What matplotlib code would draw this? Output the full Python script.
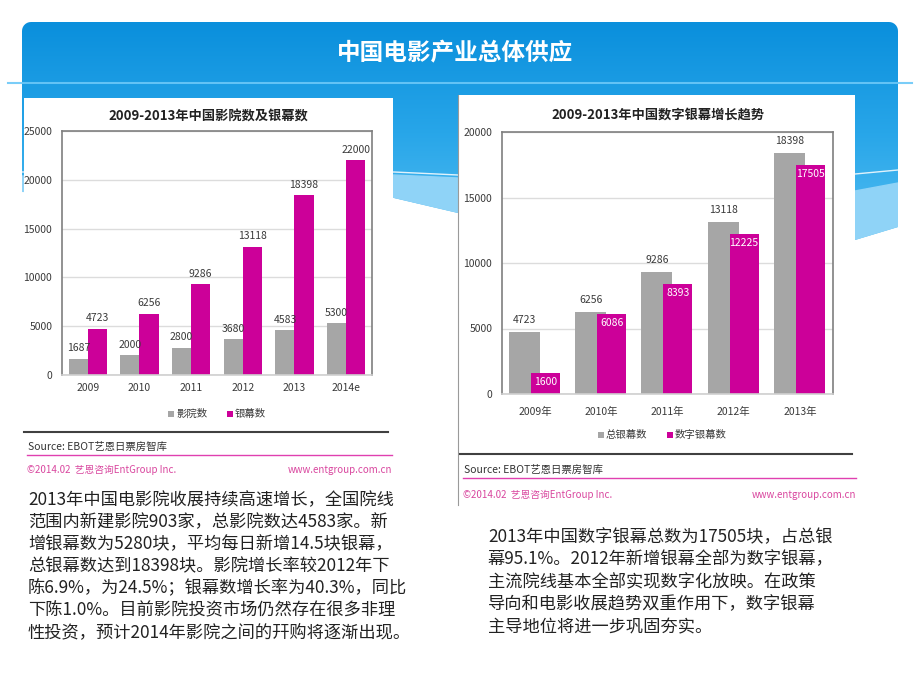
import numpy as np
import matplotlib
matplotlib.use('Agg')
import matplotlib.pyplot as plt
from matplotlib.path import Path
from matplotlib.patches import PathPatch, Rectangle
from matplotlib.colors import LinearSegmentedColormap

plt.rcParams['font.family'] = ['Noto Sans CJK SC', 'DejaVu Sans']

# data
years_left = ['2009', '2010', '2011', '2012', '2013', '2014e']
cinemas = [1687, 2000, 2800, 3680, 4583, 5300]
screens = [4723, 6256, 9286, 13118, 18398, 22000]

years_right = ['2009年', '2010年', '2011年', '2012年', '2013年']
total_screens = [4723, 6256, 9286, 13118, 18398]
digital_screens = [1600, 6086, 8393, 12225, 17505]

slide_title = '中国电影产业总体供应'
left_title = '2009-2013年中国影院数及银幕数'
right_title = '2009-2013年中国数字银幕增长趋势'
left_legend = ['影院数', '银幕数']
right_legend = ['总银幕数', '数字银幕数']
source = 'Source: EBOT艺恩日票房智库'
footer_l = '©2014.02  艺恩咨询EntGroup Inc.'
footer_r = 'www.entgroup.com.cn'

left_text = [
    '2013年中国电影院收展持续高速增长，全国院线',
    '范围内新建影院903家，总影院数达4583家。新',
    '增银幕数为5280块，平均每日新增14.5块银幕，',
    '总银幕数达到18398块。影院增长率较2012年下',
    '陈6.9%，为24.5%；银幕数增长率为40.3%，同比',
    '下陈1.0%。目前影院投资市场仍然存在很多非理',
    '性投资，预计2014年影院之间的幵购将逐渐出现。',
]
right_text = [
    '2013年中国数字银幕总数为17505块，占总银',
    '幕95.1%。2012年新增银幕全部为数字银幕，',
    '主流院线基本全部实现数字化放映。在政策',
    '导向和电影收展趋势双重作用下，数字银幕',
    '主导地位将进一步巩固夯实。',
]

GREY = '#a6a6a6'
MAGENTA = '#cc0099'
PINK = '#d9479f'
DARK = '#3a3a3a'

W, H = 920, 690
fig = plt.figure(figsize=(9.2, 6.9), dpi=100)
bg = fig.add_axes([0, 0, 1, 1])
bg.set_xlim(0, W)
bg.set_ylim(H, 0)
bg.axis('off')


def frac(x0, y0, x1, y1):
    return [x0 / W, 1 - y1 / H, (x1 - x0) / W, (y1 - y0) / H]


# banner shape with rounded top corners and a slanted bottom
r = 9
t = np.linspace(np.pi, 1.5 * np.pi, 8)
tl = [(22 + r + r * np.cos(a), 22 + r + r * np.sin(a)) for a in t]
t2 = np.linspace(1.5 * np.pi, 2 * np.pi, 8)
tr = [(898 - r + r * np.cos(a), 22 + r + r * np.sin(a)) for a in t2]
verts = tl + tr + [(898, 227), (855, 240), (458, 213), (394, 198), (22, 192), tl[0]]
banner = PathPatch(Path(verts), facecolor='none', edgecolor='none', transform=bg.transData)
bg.add_patch(banner)
cmap = LinearSegmentedColormap.from_list('b', ['#0a8fdc', '#28a6e9', '#55bff2'])
grad = np.linspace(0, 1, 256).reshape(-1, 1)
im = bg.imshow(grad, extent=[22, 898, 245, 22], aspect='auto', cmap=cmap, zorder=1)
im.set_clip_path(banner)
band = bg.fill([22, 394, 458, 855, 898, 898, 855, 458, 394, 22],
               [176, 175, 178, 191, 183, 227, 240, 213, 198, 192], color='#8fd3f7', zorder=2)[0]
band.set_clip_path(banner)
bg.plot([22, 394, 458, 855, 898], [172, 172, 175, 174, 170], color='white', lw=1, alpha=0.85, zorder=3)
bg.plot([8, 912], [83, 83], color='#6cc8f8', lw=1.5, alpha=0.9, zorder=3)
bg.text(455, 53, slide_title, color='white', fontsize=17, fontweight='bold',
        ha='center', va='center', zorder=4)

# white panels
bg.add_patch(Rectangle((24, 98), 369, 385, facecolor='white', edgecolor='none', zorder=5))
bg.add_patch(Rectangle((458, 95), 397, 410, facecolor='white', edgecolor='none', zorder=5))
bg.plot([458, 458], [95, 505], color='#9a9a9a', lw=0.8, zorder=6)


def style(ax, ymax):
    ax.set_ylim(0, ymax)
    ax.set_yticks(range(0, ymax + 1, 5000))
    ax.grid(axis='y', color='#dcdcdc', lw=1)
    ax.set_axisbelow(True)
    ax.set_facecolor('white')
    for s in ['top', 'right', 'left']:
        ax.spines[s].set_color('#7f7f7f')
        ax.spines[s].set_linewidth(1.2)
    ax.spines['bottom'].set_color('#cfcfcf')
    ax.spines['bottom'].set_linewidth(1.2)
    ax.tick_params(length=0, labelsize=7.5, colors=DARK)
    ax.tick_params(axis='y', pad=7)
    ax.tick_params(axis='x', pad=6)


# left chart
ax1 = fig.add_axes(frac(62, 131, 372, 375))
x = np.arange(len(years_left))
w = 0.37
ax1.bar(x - w / 2, cinemas, w, color=GREY)
ax1.bar(x + w / 2, screens, w, color=MAGENTA)
ax1.set_xlim(-0.5, len(years_left) - 0.5)
ax1.set_xticks(x)
ax1.set_xticklabels(years_left)
style(ax1, 25000)
for xi, v in zip(x, cinemas):
    ax1.annotate(str(v), (xi - w / 2, v), xytext=(0, 4), textcoords='offset points',
                 ha='center', va='bottom', fontsize=7.5, color=DARK)
for xi, v in zip(x, screens):
    ax1.annotate(str(v), (xi + w / 2, v), xytext=(0, 4), textcoords='offset points',
                 ha='center', va='bottom', fontsize=7.5, color=DARK)

# right chart
ax2 = fig.add_axes(frac(502, 132, 833, 394))
x2 = np.arange(len(years_right))
ax2.bar(x2 - 0.16, total_screens, 0.47, color=GREY)
ax2.bar(x2 + 0.157, digital_screens, 0.44, color=MAGENTA)
ax2.set_xlim(-0.5, len(years_right) - 0.5)
ax2.set_xticks(x2)
ax2.set_xticklabels(years_right)
style(ax2, 20000)
ax2.tick_params(axis='x', pad=9)
for xi, v in zip(x2, total_screens):
    ax2.annotate(str(v), (xi - 0.16, v), xytext=(0, 5), textcoords='offset points',
                 ha='center', va='bottom', fontsize=7.5, color=DARK)
for xi, v in zip(x2, digital_screens):
    ax2.annotate(str(v), (xi + 0.157, v), xytext=(0, -3), textcoords='offset points',
                 ha='center', va='top', fontsize=7.5, color='white')

# chart titles, legends, footers
for cx, cy, txt in [(208, 117, left_title), (658, 115, right_title)]:
    bg.text(cx, cy, txt, fontsize=9.5, fontweight='bold', color='#222222',
            ha='center', va='center', zorder=7)

legends = [((171, 230), 414, left_legend), ((601, 670), 435, right_legend)]
for xs, ly, names in legends:
    for lx, name, col in zip(xs, names, [GREY, MAGENTA]):
        bg.add_patch(Rectangle((lx - 3, ly - 3), 6, 6, facecolor=col, edgecolor='none', zorder=7))
        bg.text(lx + 5, ly, name, fontsize=7.5, color=DARK, va='center', ha='left', zorder=7)

for x0, x1, yb, ys, ym, yf in [(24, 388, 432, 447, 455, 470), (460, 852, 454, 470, 478, 495)]:
    bg.plot([x0, x1], [yb, yb], color='#404040', lw=1.5, zorder=7)
    bg.text(x0 + 4, ys, source, fontsize=7.5, color='#333333', va='center', zorder=7)
    bg.plot([x0 + 3, x1 + 4], [ym, ym], color='#e040b0', lw=1, zorder=7)
    bg.text(x0 + 3, yf, footer_l, fontsize=7, color=PINK, va='center', zorder=7)
    bg.text(x1 + 4, yf, footer_r, fontsize=7, color=PINK, va='center', ha='right', zorder=7)

# body text
for i, line in enumerate(left_text):
    bg.text(28, 500 + 22 * i, line, fontsize=12.4, color='#222222', va='center', ha='left', zorder=7)
for i, line in enumerate(right_text):
    bg.text(488, 537 + 22.5 * i, line, fontsize=12.4, color='#222222', va='center', ha='left', zorder=7)

fig.savefig('out.png', dpi=100)
